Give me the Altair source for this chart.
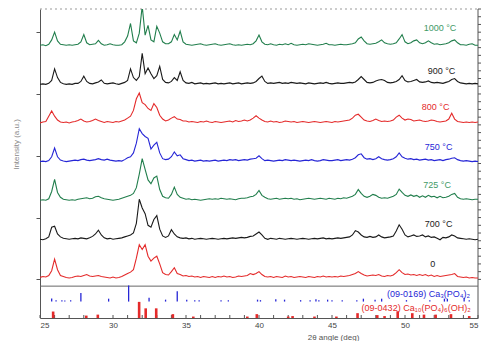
import altair as alt
import pandas as pd

# ---------------- data ----------------
two_theta = [
    25.0, 25.2, 25.4, 25.6, 25.8, 26.0, 26.2, 26.4, 26.6, 26.8,
    27.0, 27.2, 27.4, 27.6, 27.8, 28.0, 28.2, 28.4, 28.6, 28.8,
    29.0, 29.2, 29.4, 29.6, 29.8, 30.0, 30.2, 30.4, 30.6, 30.8,
    31.0, 31.2, 31.4, 31.6, 31.8, 32.0, 32.2, 32.4, 32.6, 32.8,
    33.0, 33.2, 33.4, 33.6, 33.8, 34.0, 34.2, 34.4, 34.6, 34.8,
    35.0, 35.2, 35.4, 35.6, 35.8, 36.0, 36.2, 36.4, 36.6, 36.8,
    37.0, 37.2, 37.4, 37.6, 37.8, 38.0, 38.2, 38.4, 38.6, 38.8,
    39.0, 39.2, 39.4, 39.6, 39.8, 40.0, 40.2, 40.4, 40.6, 40.8,
    41.0, 41.2, 41.4, 41.6, 41.8, 42.0, 42.2, 42.4, 42.6, 42.8,
    43.0, 43.2, 43.4, 43.6, 43.8, 44.0, 44.2, 44.4, 44.6, 44.8,
    45.0, 45.2, 45.4, 45.6, 45.8, 46.0, 46.2, 46.4, 46.6, 46.8,
    47.0, 47.2, 47.4, 47.6, 47.8, 48.0, 48.2, 48.4, 48.6, 48.8,
    49.0, 49.2, 49.4, 49.6, 49.8, 50.0, 50.2, 50.4, 50.6, 50.8,
    51.0, 51.2, 51.4, 51.6, 51.8, 52.0, 52.2, 52.4, 52.6, 52.8,
    53.0, 53.2, 53.4, 53.6, 53.8, 54.0, 54.2, 54.4, 54.6, 54.8,
    55.0,
]

i_0 = [
    2, 3, 2.5, 4, 9, 21, 10, 4, 3, 2,
    1.5, 2, 3, 3.5, 3, 4, 5, 3.5, 3, 3.5,
    4, 3, 2.5, 2, 1.5, 2.5, 1.5, 2, 3, 4.5,
    6, 7.5, 10, 22, 36, 31, 36, 24, 19, 22,
    24, 16, 7, 5, 4.5, 8, 12, 6, 5, 3.5,
    4, 3, 3.5, 2.5, 3, 2, 3, 2.5, 2, 3,
    2, 3, 2.5, 3.5, 2.5, 3, 2, 2.5, 3.5, 3,
    3.5, 4, 6, 5, 6, 8, 5, 3, 2.5, 3,
    2, 3, 2.5, 2, 3.5, 2.5, 3, 2, 2.5, 3,
    2.5, 2, 3, 2.5, 2, 3, 2.5, 3.5, 2.5, 3,
    2.5, 3, 2.5, 3.5, 3, 3.5, 4, 5, 6, 8,
    6, 4.5, 3.5, 4, 4.5, 4, 5, 3.5, 3, 4,
    3.5, 4.5, 7, 10, 7, 5, 5.5, 4.5, 5, 4,
    5, 4, 5, 3.5, 4.5, 3, 4, 3, 3.5, 4,
    4.5, 5, 6, 3, 2.5, 2, 2.5, 1.5, 2, 1.5,
    1.5,
]

i_700 = [
    1.5, 1, 2, 4, 14, 15, 7, 4, 2.5, 2,
    1.5, 2, 2.5, 2, 3, 2.5, 2, 3, 4.5, 7,
    11, 6, 3, 2, 2.5, 1.5, 2, 2.5, 3, 4,
    5, 6, 8, 18, 43, 34, 28, 16, 14, 22,
    26, 12, 5, 3.5, 5, 11.5, 7, 4, 3, 2.5,
    3, 2, 2.5, 1.5, 2, 2.5, 2, 1.5, 2, 2.5,
    2, 1.5, 2, 2.5, 2, 2.5, 3, 2.5, 3, 3.5,
    3, 3.5, 4.5, 5, 7, 9, 6, 2.5, 1.5, 2.5,
    2, 1.5, 2.5, 2, 1.5, 2, 2.5, 2, 1.5, 2,
    2.5, 2, 1.5, 2, 2.5, 2, 2.5, 3, 2, 2.5,
    2, 2.5, 3, 2.5, 3, 3.5, 4, 6, 10.5, 9,
    6, 4, 3.5, 4.5, 3.5, 4, 6, 4, 3, 3.5,
    4, 5, 10, 16.5, 12, 6, 4, 5, 6, 4.5,
    5, 6, 4, 5, 3.5, 4, 2.5, 1, 3.5, 3,
    4, 6, 5, 3, 2.5, 2, 1.5, 2, 1.5, 1,
    1.5,
]

i_725 = [
    1, 1.5, 1, 2.5, 10, 22.5, 9, 4, 2, 1.5,
    1, 1.5, 1, 2, 2.5, 3, 3.5, 2.5, 3, 4.5,
    5, 3.5, 2.5, 2, 1.5, 1, 1.5, 2, 3, 4,
    5, 6, 8, 14, 28, 44, 33, 22, 18, 24,
    26, 12, 5, 3.5, 3, 7, 14.5, 7, 4, 3,
    2, 2.5, 1.5, 2, 1.5, 1, 1.5, 2, 2.5, 2,
    2.5, 2, 3, 2.5, 2, 2.5, 2, 1.5, 2.5, 3,
    3, 3.5, 4.5, 5, 7, 11, 6, 4, 2.5, 2,
    2.5, 3, 2, 2.5, 3, 2.5, 3, 2, 2.5, 1.5,
    2, 2.5, 3, 2.5, 2, 2.5, 3, 2.5, 2, 3,
    2.5, 2, 3, 2.5, 3.5, 3, 4, 5, 7, 12,
    8, 5, 4, 5, 7, 6, 4, 3, 3.5, 3,
    4, 5, 7, 12.5, 9, 6, 5, 6.5, 5, 6,
    4, 5.5, 4, 6, 4.5, 5, 3.5, 5, 3.5, 4,
    5, 7, 8, 4, 2.5, 2, 2.5, 2, 1.5, 2,
    2,
]

i_750 = [
    1, 1.5, 1, 2, 6, 15, 6, 2.5, 1.5, 1,
    1.5, 2, 2.5, 2, 3, 3.5, 2.5, 2, 2.5, 3,
    4, 3, 2.5, 3.5, 2.5, 2, 1.5, 2, 1.5, 3,
    5, 6, 10, 20, 35, 30, 27, 25, 14, 18,
    21, 10, 4, 3, 3.5, 6, 11, 7, 8, 4,
    3, 2, 2.5, 1.5, 2, 2.5, 1.5, 2, 1.5, 2,
    2.5, 1.5, 2, 2.5, 2, 3, 2.5, 3, 2, 2.5,
    3, 2.5, 3.5, 4, 4.5, 7, 4, 2, 2.5, 2,
    1.5, 2, 2.5, 2, 3, 2.5, 2, 2.5, 2, 1.5,
    2, 2.5, 2, 3, 2, 1.5, 2, 3, 2.5, 2,
    2, 2.5, 3, 2, 2.5, 3, 2.5, 3.5, 5, 8,
    9, 5, 3.5, 4, 3, 4, 6, 4, 3, 2.5,
    3, 4, 6, 10, 6, 4.5, 3.5, 4, 3, 3.5,
    2.5, 3, 3.5, 2.5, 3, 2, 2.5, 3, 2, 3,
    3.5, 4.5, 5, 3, 2, 1.5, 2, 1.5, 1, 1.5,
    1,
]

i_800 = [
    1, 2, 2.5, 8, 13.5, 8, 4, 2, 1.5, 2,
    1, 2, 2.5, 3.5, 5, 3, 2, 2.5, 3.5, 5,
    3.5, 2.5, 1.5, 2.5, 2, 1.5, 2.5, 2, 3, 4,
    6, 8, 14, 26, 32, 22, 20, 16, 14, 21,
    17, 9, 5, 3, 4, 6, 7.5, 5, 4.5, 3,
    3, 2, 2.5, 2, 1.5, 2.5, 2, 3, 2, 1.5,
    2.5, 2, 1.5, 2, 2.5, 3, 2, 3.5, 2.5, 3,
    4, 3, 4, 6, 8.5, 6, 4, 2.5, 2, 3,
    2, 2.5, 1.5, 2, 3, 2.5, 2, 2.5, 1.5, 2,
    2.5, 2, 1.5, 2, 2.5, 2, 1.5, 2, 2.5, 2,
    1.5, 2.5, 2, 2.5, 3, 3.5, 4, 6, 9, 10,
    7, 4, 3, 2.5, 3.5, 5, 3.5, 2.5, 3, 2.5,
    3, 4, 7, 9, 6, 4, 5, 4.5, 3, 3.5,
    4, 3, 2.5, 3, 4, 3.5, 2.5, 2, 2.5, 3,
    5, 11, 5, 2.5, 2, 1.5, 2, 1.5, 2, 1.5,
    2,
]

i_900 = [
    1, 1.5, 1, 2, 5, 17, 8, 3, 1.5, 1,
    1.5, 1, 2, 2, 4, 9.5, 4, 2, 1.5, 2.5,
    3.5, 5.5, 2, 1.5, 2, 2.5, 1.5, 1, 2, 3,
    5, 17, 8, 5, 9, 33, 12, 18, 12, 7,
    10, 19.5, 6, 3, 2.5, 4, 8, 5, 14, 5,
    2.5, 2, 3, 1.5, 2, 2.5, 1.5, 2, 1.5, 2,
    2.5, 1.5, 2, 1.5, 2, 2.5, 1.5, 2, 2.5, 1.5,
    2, 2.5, 2, 2.5, 4, 7, 9.5, 4, 2, 2.5,
    2, 2.5, 3, 2, 2.5, 2, 3, 2.5, 2, 2.5,
    2, 1.5, 2.5, 2, 1.5, 2, 2.5, 2, 3, 2,
    1.5, 2, 2.5, 2, 2, 2.5, 3, 2.5, 3.5, 6,
    9, 6, 3, 2.5, 3, 4.5, 5.5, 6, 5, 3,
    2.5, 3, 4, 6, 10, 5, 3.5, 4, 5, 6,
    3.5, 3, 3.5, 4.5, 3, 2.5, 3, 2.5, 2, 3,
    4, 6, 7, 4, 2.5, 2, 1.5, 2, 1.5, 2,
    1.5,
]

i_1000 = [
    1.5, 2, 1, 2.5, 7, 15, 6, 2.5, 2, 1.5,
    2, 1.5, 2, 2.5, 5, 12.5, 4, 2, 2.5, 3,
    6.5, 3, 1.5, 2, 3, 2, 1.5, 1.5, 2, 5,
    11, 24, 6, 4, 14, 42, 12, 22, 7, 5,
    21, 14, 5, 3, 3, 5, 12.5, 7, 16, 5,
    2.5, 2, 1.5, 2, 2.5, 3, 2, 1.5, 2, 2.5,
    3, 2, 1.5, 2, 2.5, 3, 2, 1.5, 2, 1.5,
    2, 2.5, 2, 3, 6, 12, 5, 2.5, 2, 3,
    2, 1.5, 2.5, 2, 3, 2, 3.5, 2, 1.5, 2,
    2.5, 2, 3, 2.5, 2, 1.5, 2, 2.5, 3.5, 2,
    2, 1.5, 2, 2.5, 2, 2, 2.5, 3, 4, 8,
    10, 6, 3, 2.5, 3, 3.5, 5, 7, 4, 3,
    2.5, 3, 4, 8, 12.5, 5, 3, 4, 6, 7,
    4, 3, 4, 6, 4, 2.5, 3, 2, 2.5, 3,
    4, 6, 7, 4, 2, 2, 1.5, 2.5, 3, 1.5,
    1.5,
]

series_names = ["0", "700 °C", "725 °C", "750 °C", "800 °C", "900 °C", "1000 °C"]
series_values = [i_0, i_700, i_725, i_750, i_800, i_900, i_1000]
series_offsets = [40, 80, 121, 161, 201, 241, 281]

# stick patterns (reference cards)
tcp_pos = [25.8, 26.1, 26.5, 26.7, 27.1, 27.8, 29.7, 31.07, 32.47, 33.6, 34.4,
           35.05, 35.6, 35.9, 37.4, 37.9, 39.9, 40.1, 41.15, 41.75, 42.85, 43.5,
           43.9, 44.1, 44.7, 45.0, 45.7, 46.7, 47.15, 47.95, 48.4, 50.1, 51.7,
           52.7, 52.9, 54.05, 54.4]
tcp_int = [3.3, 1.5, 1.5, 1.2, 1.5, 9, 3, 16.7, 4, 2, 10.7,
           2, 1.5, 1.5, 1.5, 1.5, 2, 1.5, 2.5, 2, 1.5, 1.5,
           2.5, 1.5, 2, 1.5, 1.5, 1.5, 3, 2, 3, 1.5, 1.5,
           3, 3, 4, 1.5]
hap_pos = [25.9, 28.17, 28.96, 31.79, 32.24, 32.96, 34.1, 35.5, 39.2, 39.85,
           42.0, 42.3, 43.8, 45.3, 46.75, 48.1, 48.6, 49.5, 50.5, 51.3, 52.1,
           53.15, 54.4]
hap_int = [6.7, 2.5, 3.5, 16.7, 10, 10, 4, 1.5, 1.5, 4,
           1.5, 2, 1.5, 1.5, 5, 3, 2, 7, 5, 3.5, 3.5,
           4, 2]

x_tick_labels = [25, 30, 35, 40, 45, 50, 55]
x_minor_ticks = list(range(25, 56))
y_ticks = list(range(40, 321, 8))

# ---------------- styling ----------------
GREEN = "#217e4c"
GREEN_LBL = "#3f9a66"
BLUE = "#2626d6"
RED = "#e42a2a"
BLACK = "#1a1a1a"
AX = "#555555"
FONT = "Liberation Sans"

trace_colors = [RED, BLACK, GREEN, BLUE, RED, BLACK, GREEN]
label_colors = [BLACK, BLACK, GREEN_LBL, BLUE, RED, BLACK, GREEN_LBL]
label_x = [51.9, 52.3, 52.2, 52.3, 52.1, 52.5, 52.4]
label_y = [56, 97, 138, 177, 218, 256, 300]

W, H = 438, 309

rows = []
for name, off, col, vals in zip(series_names, series_offsets, trace_colors, series_values):
    for t, v in zip(two_theta, vals):
        rows.append({"tt": t, "y": off + v, "series": name, "color": col})
trace_df = pd.DataFrame(rows)

lbl_df = pd.DataFrame({"tt": label_x, "y": label_y, "text": series_names, "color": label_colors})
tcp_df = pd.DataFrame({"tt": tcp_pos, "base": [17] * len(tcp_pos),
                       "top": [17 + h for h in tcp_int]})
hap_df = pd.DataFrame({"tt": hap_pos, "base": [0] * len(hap_pos), "top": hap_int})
xt_df = pd.DataFrame({"tt": x_minor_ticks})
yt_df = pd.DataFrame({"y": y_ticks})

x_scale = alt.Scale(domain=[25, 55], nice=False, zero=False)
y_scale = alt.Scale(domain=[0, 320], nice=False, zero=False)

x_axis = alt.Axis(values=x_tick_labels, tickSize=0, labelFontSize=8, labelColor="#444",
                  labelPadding=3, domainColor=AX, grid=False,
                  title="2θ angle (deg)", titleFontSize=8, titleFontWeight="normal",
                  titleColor="#555", titleX=293, titleY=19, titleBaseline="middle")
y_axis = alt.Axis(values=y_ticks, labels=False, tickSize=4, tickColor=AX, domainColor=AX,
                  grid=False, title="Intensity (a.u.)", titleFontSize=8,
                  titleFontWeight="normal", titleColor="#888", titleX=-24, titleY=135,
                  titleAngle=270, titleAlign="center", titleBaseline="middle")

lines = alt.Chart(trace_df).mark_line(strokeWidth=1.1, clip=True).encode(
    x=alt.X("tt:Q", scale=x_scale, axis=x_axis),
    y=alt.Y("y:Q", scale=y_scale, axis=y_axis),
    color=alt.Color("color:N", scale=None),
    detail="series:N",
)

labels = alt.Chart(lbl_df).mark_text(fontSize=9, font=FONT, align="center", baseline="middle").encode(
    x=alt.X("tt:Q", scale=x_scale),
    y=alt.Y("y:Q", scale=y_scale),
    text="text:N",
    color=alt.Color("color:N", scale=None),
)

tcp_sticks = alt.Chart(tcp_df).mark_rule(color=BLUE, strokeWidth=1.3).encode(
    x=alt.X("tt:Q", scale=x_scale), y=alt.Y("base:Q", scale=y_scale), y2="top:Q")
hap_sticks = alt.Chart(hap_df).mark_rule(color=RED, strokeWidth=2.6).encode(
    x=alt.X("tt:Q", scale=x_scale), y=alt.Y("base:Q", scale=y_scale), y2="top:Q")

tcp_label = alt.Chart(pd.DataFrame({"tt": [54.45], "y": [25], "text": ["(09-0169) Ca₃(PO₄)₂"]})).mark_text(
    fontSize=9, font=FONT, align="right", baseline="middle", color=BLUE).encode(
    x=alt.X("tt:Q", scale=x_scale), y=alt.Y("y:Q", scale=y_scale), text="text:N")
hap_label = alt.Chart(pd.DataFrame({"tt": [54.5], "y": [10], "text": ["(09-0432) Ca₁₀(PO₄)₆(OH)₂"]})).mark_text(
    fontSize=9, font=FONT, align="right", baseline="middle", color=RED).encode(
    x=alt.X("tt:Q", scale=x_scale), y=alt.Y("y:Q", scale=y_scale), text="text:N")

divider = alt.Chart(pd.DataFrame({"y": [33]})).mark_rule(color="#666", strokeWidth=1).encode(
    y=alt.Y("y:Q", scale=y_scale))

bottom_ticks = alt.Chart(xt_df).mark_rule(color=AX, strokeWidth=1).encode(
    x=alt.X("tt:Q", scale=x_scale), y=alt.value(H), y2=alt.value(H - 3))

right_line = alt.Chart(pd.DataFrame({"a": [0]})).mark_rule(color=AX, strokeWidth=1).encode(
    x=alt.value(W), y=alt.value(0), y2=alt.value(H))
right_ticks = alt.Chart(yt_df).mark_rule(color=AX, strokeWidth=1).encode(
    y=alt.Y("y:Q", scale=y_scale), x=alt.value(W), x2=alt.value(W + 3))
top_line = alt.Chart(pd.DataFrame({"a": [0]})).mark_rule(color="#999", strokeWidth=1, strokeDash=[2, 3]).encode(
    x=alt.value(0), x2=alt.value(W), y=alt.value(0))

chart = alt.layer(
    top_line, right_line, right_ticks, divider, bottom_ticks,
    tcp_sticks, hap_sticks, lines, labels, tcp_label, hap_label,
).properties(
    width=W, height=H,
    autosize=alt.AutoSizeParams(type="none"),
    padding={"left": 32, "top": 1, "right": 3, "bottom": 23},
).configure_view(stroke=None).configure_axis(labelFont=FONT, titleFont=FONT)

chart.save("out.html", embed_options={"renderer": "svg", "actions": False})
